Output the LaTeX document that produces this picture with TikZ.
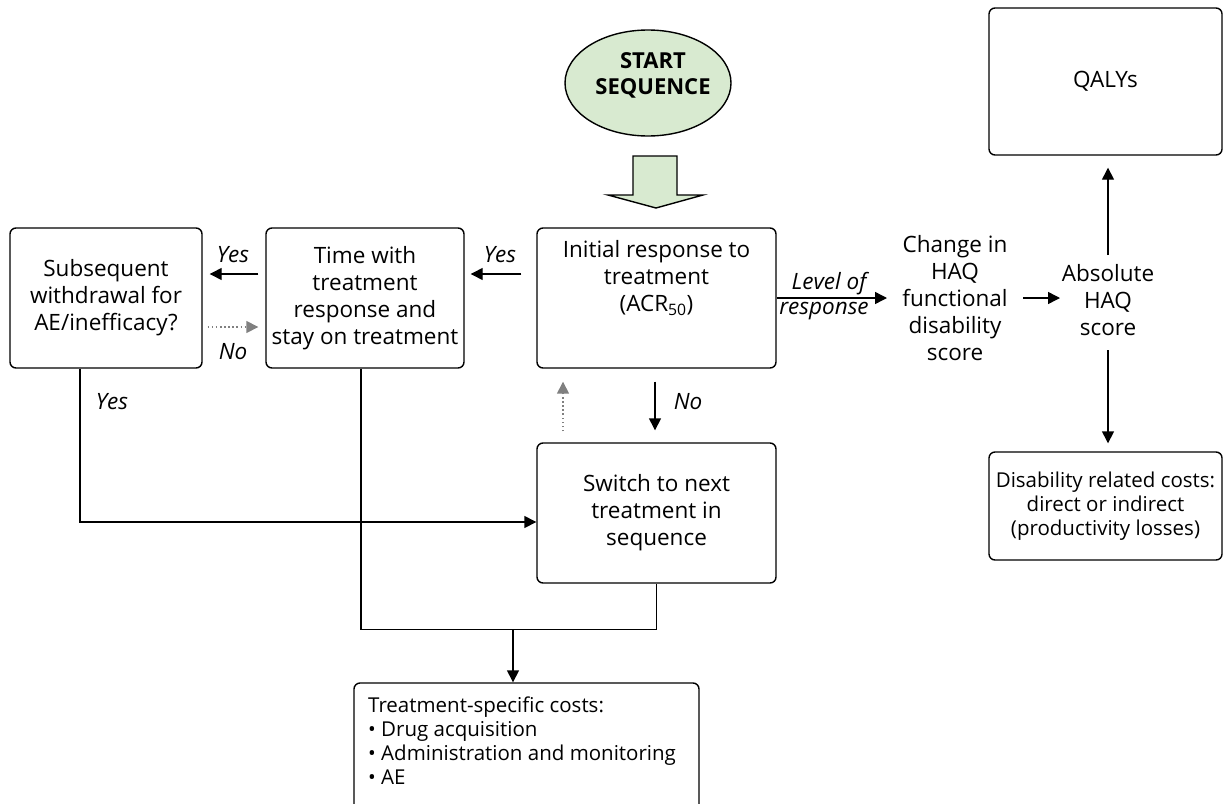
\documentclass[tikz,border=0pt]{standalone}
\usepackage{fontspec}
\setmainfont{Open Sans}
\usetikzlibrary{arrows.meta,shapes.geometric}
\definecolor{startgreen}{RGB}{216,234,208}
\definecolor{dotgray}{RGB}{128,128,128}
\newcommand{\bigfs}{\fontsize{22.5}{27}\selectfont}
\newcommand{\smallfs}{\fontsize{20.5}{24}\selectfont}
\begin{document}
\begin{tikzpicture}[x=1pt,y=-1pt,
  box/.style={draw, line width=1.4pt, rounded corners=6pt, inner sep=0pt, align=center, font=\bigfs},
  txt/.style={inner sep=0pt, align=center, font=\bigfs},
  lbl/.style={inner sep=0pt, font=\bigfs\itshape},
  conn/.style={line width=1.4pt},
  arr/.style={conn, -{Triangle[length=12pt,width=12pt]}},
  dotarr/.style={line width=1.5pt, dotgray, dash pattern=on 1.5pt off 2.6pt, -{Triangle[length=12pt,width=12pt]}}
]
\useasboundingbox (0,0) rectangle (1225,803);

% start ellipse and block arrow
\node[ellipse, draw, line width=1.4pt, fill=startgreen, minimum width=166pt, minimum height=106pt, inner sep=0pt] (start) at (648,83) {};
\node[txt, font=\fontsize{22}{26}\selectfont\bfseries] (startlbl) at (653,75) {START\\SEQUENCE};
\draw[line width=1.4pt, fill=startgreen] (633,156) -- (677,156) -- (677,195) -- (703,195) -- (656,208) -- (608,195) -- (633,195) -- cycle;

% boxes
\node[box, minimum width=192pt, minimum height=140pt] (sub) at (106,298) {Subsequent\\withdrawal for\\AE/inefficacy?};
\node[box, minimum width=198pt, minimum height=140pt] (time) at (365,298) {Time with\\treatment\\response and\\stay on treatment};
\node[box, minimum width=239pt, minimum height=140pt] (init) at (656.5,298) {};
\node[txt] (initlbl) at (656.5,278) {Initial response to\\treatment\\(ACR\textsubscript{50})};
\node[box, minimum width=239pt, minimum height=140pt] (switch) at (656.5,513) {Switch to next\\treatment in\\sequence};
\node[box, minimum width=233pt, minimum height=147pt] (qaly) at (1105.5,81.5) {QALYs};
\node[box, minimum width=233pt, minimum height=108pt, font=\smallfs] (dis) at (1105.5,506) {Disability related costs:\\direct or indirect\\(productivity losses)};
\node[box, minimum width=345pt, minimum height=130pt] (cost) at (526.5,748) {};
\node[inner sep=0pt, align=left, font=\smallfs, anchor=north west] (costlbl) at (368,697) {Treatment-specific costs:\\\textbullet\ Drug acquisition\\\textbullet\ Administration and monitoring\\\textbullet\ AE};

% free text nodes
\node[txt] (chg) at (955,298) {Change in\\HAQ\\functional\\disability\\score};
\node[txt] (abs) at (1108,300) {Absolute\\HAQ\\score};

% coordinates for free ends
\coordinate (lvlend) at (887,298);
\coordinate (chgout) at (1023,298);
\coordinate (absin) at (1060,298);
\coordinate (absup) at (1108,255);
\coordinate (absdown) at (1108,350);
\coordinate (merge) at (513,629);

% connectors
\draw[arr] ([shift={(-15,-24)}]init.west) -- ([shift={(6,-24)}]time.east);
\node[lbl] (yes1) at (500,255) {Yes};
\draw[arr] ([shift={(-7,-24)}]time.west) -- ([shift={(7,-24)}]sub.east);
\node[lbl] (yes2) at (233,255) {Yes};
\draw[dotarr] ([shift={(5,29)}]sub.east) -- ([shift={(-7,29)}]time.west);
\node[lbl] (no1) at (233,352) {No};

\draw[arr] (init.east) -- (lvlend);
\node[lbl] (lvl1) at (829,284) {Level of};
\node[lbl] (lvl2) at (824,311) {response};
\draw[arr] (chgout) -- (absin);
\draw[arr] (absup) -- ([shift={(2.5,12)}]qaly.south);
\draw[arr] (absdown) -- ([shift={(2.5,-8)}]dis.north);

\draw[arr] ([shift={(-1.5,13)}]init.south) -- ([shift={(-1.5,-12)}]switch.north);
\node[lbl] (no2) at (688,402) {No};
\draw[dotarr] ([shift={(-93.5,-11)}]switch.north) -- ([shift={(-93.5,13)}]init.south);

\draw[arr] ([shift={(-26,0)}]sub.south) |- ([shift={(0,9)}]switch.west);
\node[lbl] (yes3) at (112,402) {Yes};
\draw[conn] ([shift={(-4,0)}]time.south) |- ([shift={(0,46)}]switch.south) -- (switch.south);
\draw[arr] (merge) -- (merge |- cost.north);
\end{tikzpicture}
\end{document}
